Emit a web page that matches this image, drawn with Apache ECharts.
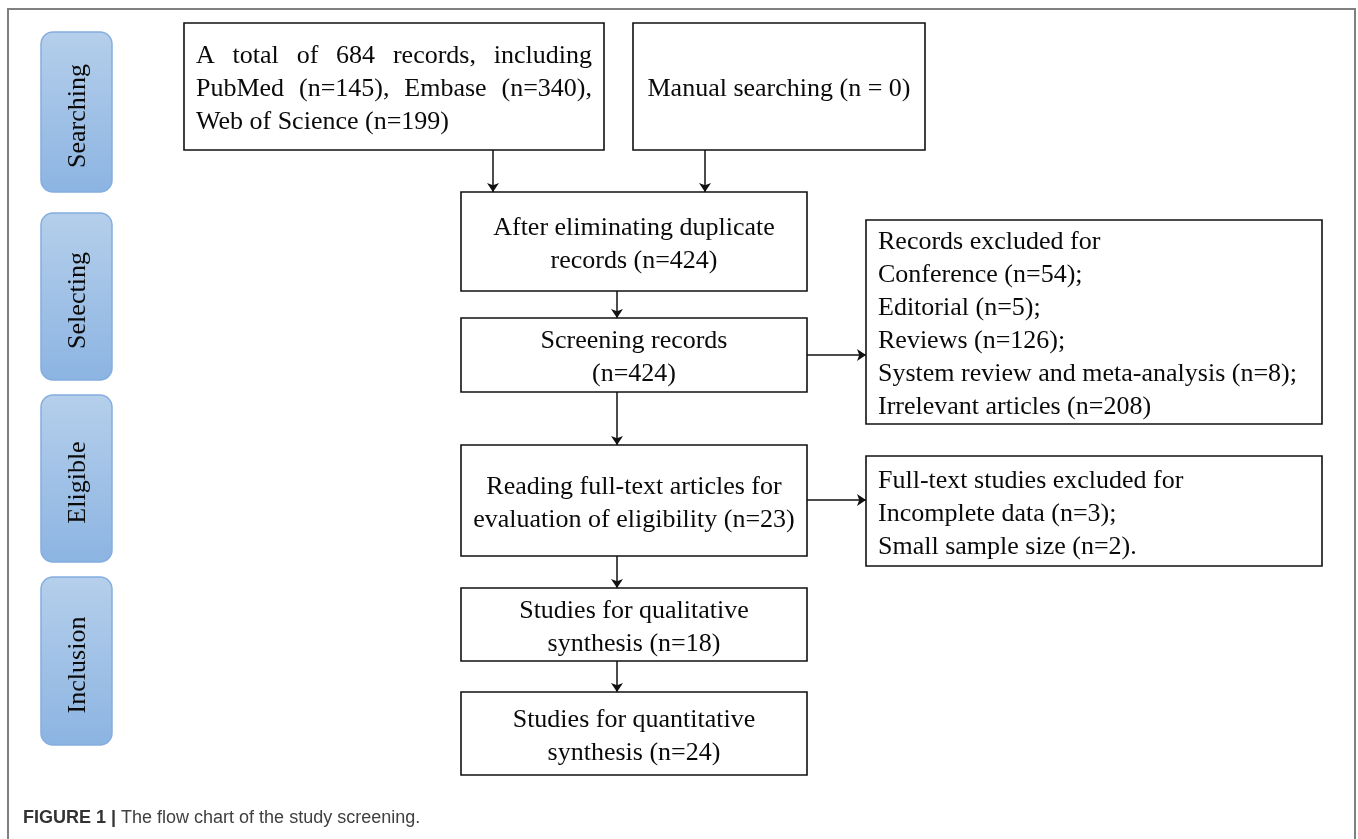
<!DOCTYPE html>
<html>
<head>
<meta charset="utf-8">
<title>Study screening flow chart</title>
<script src="https://cdn.jsdelivr.net/npm/echarts@6/dist/echarts.min.js"></script>
<style>
  html, body { margin: 0; padding: 0; background: #fff; }
  #main { width: 1358px; height: 839px; }
</style>
</head>
<body>
<div id="main"></div>
<script>
// stages on the left side
var stageNames = ['Searching', 'Selecting', 'Eligible', 'Inclusion'];

// record counts
var sourceNames = ['PubMed', 'Embase', 'Web of Science'];
var sourceCounts = [145, 340, 199];
var manualCount = 0;
var dedupCount = 424;
var screenCount = 424;
var excludeNames = ['Conference', 'Editorial', 'Reviews', 'System review and meta-analysis', 'Irrelevant articles'];
var excludeCounts = [54, 5, 126, 8, 208];
var fullTextCount = 23;
var fullExcludeNames = ['Incomplete data', 'Small sample size'];
var fullExcludeCounts = [3, 2];
var qualitativeCount = 18;
var quantitativeCount = 24;

// layout on a 1358 x 839 plane (x0, y0, x1, y1)
var stageBoxes = [[41, 32, 112, 192], [41, 213, 112, 380], [41, 395, 112, 562], [41, 577, 112, 745]];
var flowBoxes = [
    [184, 23, 604, 150],
    [633, 23, 925, 150],
    [461, 192, 807, 291],
    [461, 318, 807, 392],
    [866, 220, 1322, 424],
    [461, 445, 807, 556],
    [866, 456, 1322, 566],
    [461, 588, 807, 661],
    [461, 692, 807, 775]
];
var arrowLinks = [
    [[493, 150], [493, 192]],
    [[705, 150], [705, 192]],
    [[617, 291], [617, 318]],
    [[807, 355], [866, 355]],
    [[617, 392], [617, 445]],
    [[807, 500], [866, 500]],
    [[617, 556], [617, 588]],
    [[617, 661], [617, 692]]
];

var total = sourceCounts.reduce(function (a, b) { return a + b; }, 0);

// text of every flow box, and how it is aligned
var flowTexts = [
    { align: 'justify', lines: [
        'A total of ' + total + ' records, including',
        sourceNames[0] + ' (n=' + sourceCounts[0] + '), ' + sourceNames[1] + ' (n=' + sourceCounts[1] + '),',
        sourceNames[2] + ' (n=' + sourceCounts[2] + ')'] },
    { align: 'center', lines: ['Manual searching (n = ' + manualCount + ')'] },
    { align: 'center', lines: ['After eliminating duplicate', 'records (n=' + dedupCount + ')'] },
    { align: 'center', lines: ['Screening records', '(n=' + screenCount + ')'] },
    { align: 'left', lines: ['Records excluded for'].concat(excludeNames.map(function (n, i) {
        return n + ' (n=' + excludeCounts[i] + ')' + (i < excludeNames.length - 1 ? ';' : '');
    })) },
    { align: 'center', lines: ['Reading full-text articles for', 'evaluation of eligibility (n=' + fullTextCount + ')'] },
    { align: 'left', lines: ['Full-text studies excluded for'].concat(fullExcludeNames.map(function (n, i) {
        return n + ' (n=' + fullExcludeCounts[i] + ')' + (i < fullExcludeNames.length - 1 ? ';' : '.');
    })) },
    { align: 'center', lines: ['Studies for qualitative', 'synthesis (n=' + qualitativeCount + ')'] },
    { align: 'center', lines: ['Studies for quantitative', 'synthesis (n=' + quantitativeCount + ')'] }
];

var FONT = '26px "Liberation Serif", "Times New Roman", serif';
var LINE_H = 33;
var PAD = 12;
var TEXT_DY = 3;   // glyphs sit a little below the box centre

var measureCtx = document.createElement('canvas').getContext('2d');
measureCtx.font = FONT;
function textWidth(s) { return measureCtx.measureText(s).width; }

function textEl(s, x, y, align) {
    return {
        type: 'text',
        style: { text: s, x: x, y: y, font: FONT, fill: '#0a0a0a', align: align, verticalAlign: 'middle' }
    };
}

var chart = echarts.init(document.getElementById('main'));

var option = {
    backgroundColor: '#fff',
    animation: false,
    grid: { left: 0, right: 0, top: 0, bottom: 0 },
    xAxis: { type: 'value', min: 0, max: 1358, show: false },
    yAxis: { type: 'value', min: 0, max: 839, inverse: true, show: false },
    title: {
        left: 18,
        top: 804,
        text: '{b|FIGURE 1 |} {n|The flow chart of the study screening.}',
        textStyle: {
            fontWeight: 'normal',
            rich: {
                b: { fontFamily: '"Liberation Sans", Arial, sans-serif', fontWeight: 'bold', fontSize: 18, color: '#333' },
                n: { fontFamily: '"Liberation Sans", Arial, sans-serif', fontWeight: 'normal', fontSize: 18, color: '#404040' }
            }
        }
    },
    graphic: [{
        type: 'polyline',
        shape: { points: [[8, 839], [8, 9], [1355, 9], [1355, 839]] },
        style: { stroke: '#808080', lineWidth: 2, fill: null }
    }],
    series: [
        {
            // blue stage tabs
            type: 'custom',
            coordinateSystem: 'cartesian2d',
            data: stageBoxes,
            renderItem: function (params, api) {
                var p0 = api.coord([api.value(0), api.value(1)]);
                var p1 = api.coord([api.value(2), api.value(3)]);
                return {
                    type: 'group',
                    children: [{
                        type: 'rect',
                        shape: { x: p0[0], y: p0[1], width: p1[0] - p0[0], height: p1[1] - p0[1], r: 12 },
                        style: {
                            fill: new echarts.graphic.LinearGradient(0, 0, 0, 1, [
                                { offset: 0, color: '#b5cfeb' },
                                { offset: 1, color: '#8cb4e2' }
                            ]),
                            stroke: '#84ade0',
                            lineWidth: 1.5
                        }
                    }, {
                        type: 'text',
                        x: (p0[0] + p1[0]) / 2 + 2,
                        y: (p0[1] + p1[1]) / 2 + 4,
                        rotation: Math.PI / 2,
                        style: {
                            text: stageNames[params.dataIndex], x: 0, y: 0,
                            font: FONT, fill: '#0a0a0a', align: 'center', verticalAlign: 'middle'
                        }
                    }]
                };
            }
        },
        {
            // flow boxes
            type: 'custom',
            coordinateSystem: 'cartesian2d',
            data: flowBoxes,
            renderItem: function (params, api) {
                var p0 = api.coord([api.value(0), api.value(1)]);
                var p1 = api.coord([api.value(2), api.value(3)]);
                var info = flowTexts[params.dataIndex];
                var n = info.lines.length;
                var cy = (p0[1] + p1[1]) / 2 + TEXT_DY;
                var children = [{
                    type: 'rect',
                    shape: { x: p0[0], y: p0[1], width: p1[0] - p0[0], height: p1[1] - p0[1] },
                    style: { fill: '#fff', stroke: '#111', lineWidth: 1.6 }
                }];
                info.lines.forEach(function (line, i) {
                    var y = cy + (i - (n - 1) / 2) * LINE_H;
                    if (info.align === 'center') {
                        children.push(textEl(line, (p0[0] + p1[0]) / 2, y, 'center'));
                    } else if (info.align === 'left' || i === n - 1) {
                        children.push(textEl(line, p0[0] + PAD, y, 'left'));
                    } else {
                        // justified line: spread words across the box width
                        var words = line.split(' ');
                        var used = words.reduce(function (s, w) { return s + textWidth(w); }, 0);
                        var room = (p1[0] - p0[0] - 2 * PAD) - used;
                        var gap = room / (words.length - 1);
                        var x = p0[0] + PAD;
                        words.forEach(function (w) {
                            children.push(textEl(w, x, y, 'left'));
                            x += textWidth(w) + gap;
                        });
                    }
                });
                return { type: 'group', children: children };
            }
        },
        {
            // arrows
            type: 'lines',
            coordinateSystem: 'cartesian2d',
            symbol: ['none', 'arrow'],
            symbolSize: 9,
            lineStyle: { color: '#111', width: 1.5, opacity: 1 },
            data: arrowLinks.map(function (c) { return { coords: c }; })
        }
    ]
};

chart.setOption(option);
</script>
</body>
</html>
